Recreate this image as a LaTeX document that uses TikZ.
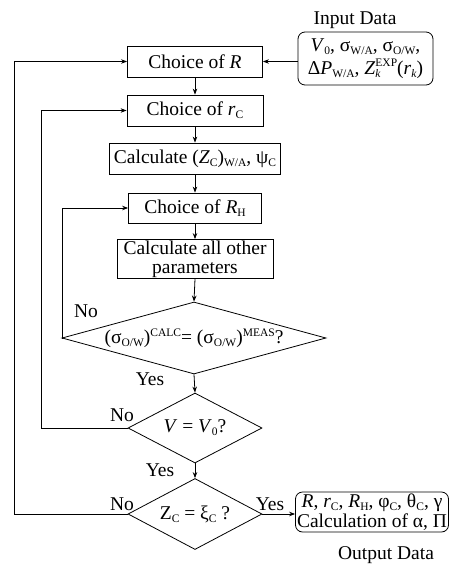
\documentclass[tikz,border=0pt]{standalone}
\usepackage{fontspec}
\setmainfont{Liberation Serif}
\usetikzlibrary{shapes.geometric,arrows.meta}
\newcommand\sbs[1]{\raisebox{-0.35ex}{\fontsize{11.5}{11.5}\selectfont #1}}
\newcommand\sps[1]{\raisebox{0.8ex}{\fontsize{11.5}{11.5}\selectfont #1}}
\newcommand\sbsps[2]{\raisebox{-0.35ex}{\fontsize{11.5}{11}\selectfont\shortstack[l]{#2\\#1}}}
\begin{document}
\begin{tikzpicture}[x=1pt,y=-1pt,
  font=\fontsize{19.5}{19}\selectfont,
  line width=0.8pt,
  arr/.style={-{Stealth[length=6pt,width=4.5pt]}},
  box/.style={draw,rectangle,inner sep=0pt,align=center},
  rbox/.style={draw,rectangle,rounded corners=7pt,inner sep=0pt,align=center},
  dia/.style={draw,diamond,inner sep=0pt},
  lbl/.style={inner sep=0pt}]
\useasboundingbox (0,0) rectangle (449,565);
% boxes
\node[box,minimum width=135pt,minimum height=31pt] (R) at (195,61.5) {Choice of \textit{R}};
\node[box,minimum width=136pt,minimum height=31pt] (rc) at (195,110.5) {Choice of \textit{r}\sbs{C}};
\node[box,minimum width=171pt,minimum height=31pt] (cz) at (195,158.5) {Calculate (\textit{Z}\sbs{C})\sbs{W/A}, ψ\sbs{C}};
\node[box,minimum width=133pt,minimum height=30pt] (rh) at (195,208) {Choice of \textit{R}\sbs{H}};
\node[box,minimum width=156pt,minimum height=39pt] (ca) at (195,259) {Calculate all other\\[0pt]parameters};
% diamonds
\node[dia,minimum width=264pt,minimum height=72pt] (d1) at (194,338) {};
\node[lbl] at (d1.center) {(σ\sbs{O/W})\sps{CALC}= (σ\sbs{O/W})\sps{MEAS}?};
\node[dia,minimum width=134pt,minimum height=70pt] (d2) at (195,428) {};
\node[lbl] at (d2.center) {\textit{V} = \textit{V}\sbs{0}?};
\node[dia,minimum width=134pt,minimum height=71pt] (d3) at (195,514) {};
\node[lbl] at (d3.center) {Z\sbs{C} = ξ\sbs{C} ?};
% input / output
\node[rbox,minimum width=135pt,minimum height=53pt] (inp) at (365.5,58.5) {\textit{V}\sbs{0}, σ\sbs{W/A}, σ\sbs{O/W},\\[4pt]Δ\textit{P}\sbs{W/A}, \textit{Z}\sbsps{\textit{k}}{EXP}(\textit{r}\sbs{\textit{k}})};
\node[lbl] (inl) at (355,20) {Input Data};
\node[rbox,minimum width=153pt,minimum height=40pt] (out) at (372,512) {\textit{R}, \textit{r}\sbs{C}, \textit{R}\sbs{H}, φ\sbs{C}, θ\sbs{C}, γ\\[1pt]Calculation of α, Π};
\node[lbl] (outl) at (386,555) {Output Data};
% labels
\node[lbl] (no1) at (86,311) {No};
\node[lbl] (yes1) at (150,379) {Yes};
\node[lbl] (no2) at (122,415) {No};
\node[lbl] (yes2) at (160,470) {Yes};
\node[lbl] (no3) at (122,504) {No};
\node[lbl] (yes3) at (270,504) {Yes};
% helper coordinates for loop-back lines
\coordinate (c1) at (62,0);
\coordinate (c2) at (41,0);
\coordinate (c3) at (14,0);
% connectors
\draw[arr] (R.south) -- (rc.north);
\draw[arr] (rc.south) -- (cz.north);
\draw[arr] (cz.south) -- (rh.north);
\draw[arr] (rh.south) -- (ca.north);
\draw[arr] (ca.south) -- (d1.north);
\draw[arr] (d1.south) -- (d2.north);
\draw[arr] (d2.south) -- (d3.north);
\draw[arr] (R.east -| inp.west) -- (R.east);
\draw[arr] (d1.west) -- (d1.west -| c1) |- (rh.west);
\draw[arr] (d2.west) -- (d2.west -| c2) |- (rc.west);
\draw[arr] (d3.west) -- (d3.west -| c3) |- (R.west);
\draw[arr] (d3.east) -- (d3.east -| out.west);
\end{tikzpicture}
\end{document}
